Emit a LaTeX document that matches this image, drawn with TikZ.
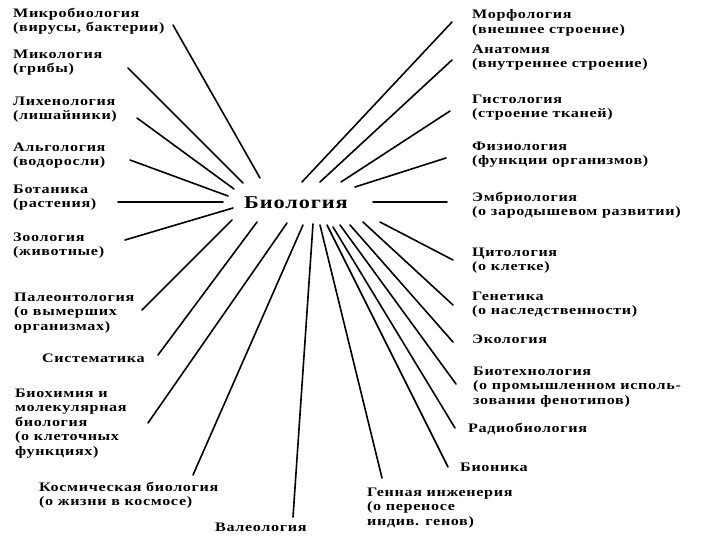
\documentclass[tikz,border=0pt]{standalone}
\usepackage{fontspec}
\setmainfont{Liberation Serif}[FakeStretch=1.24, LetterSpace=5]
\usepackage{tikz}
\usetikzlibrary{positioning}

\begin{document}
\begin{tikzpicture}[x=1pt, y=-1pt,
    lbl/.style={anchor=north west, inner sep=0pt, align=left, font=\bfseries\fontsize{13}{14.5}\selectfont},
    ray/.style={line width=1.6pt, line cap=round}]
    \useasboundingbox (0,0) rectangle (720,540);

    % Центр
    \node[inner sep=0pt, anchor=base, font=\bfseries\fontsize{18}{20}\selectfont] (bio) at (296,208) {Биология};

    % Левая колонка
    \node[lbl] (mikro) at (13,7.5) {Микробиология\\(вирусы, бактерии)};
    \node[lbl] (mikol) at (13,49.5) {Микология\\(грибы)};
    \node[lbl] (lihen) at (13,96.5) {Лихенология\\(лишайники)};
    \node[lbl] (algo) at (13,142.5) {Альгология\\(водоросли)};
    \node[lbl] (botan) at (13,184.5) {Ботаника\\(растения)};
    \node[lbl] (zool) at (13,232.5) {Зоология\\(животные)};
    \node[lbl] (paleo) at (14,292.5) {Палеонтология\\(о вымерших\\организмах)};
    \node[lbl] (sist) at (42,353.5) {Систематика};
    \node[lbl] (bioch) at (15,388.5) {Биохимия и\\молекулярная\\биология\\(о клеточных\\функциях)};
    \node[lbl] (kosm) at (39,481.5) {Космическая биология\\(о жизни в космосе)};
    \node[lbl] (valeo) at (215,522.5) {Валеология};

    % Правая колонка
    \node[lbl] (morf) at (472,9.5) {Морфология\\(внешнее строение)};
    \node[lbl] (anat) at (472,44.5) {Анатомия\\(внутреннее строение)};
    \node[lbl] (gistol) at (472,94.5) {Гистология\\(строение тканей)};
    \node[lbl] (fiziol) at (472,141.5) {Физиология\\(функции организмов)};
    \node[lbl] (embr) at (472,191.5) {Эмбриология\\(о зародышевом развитии)};
    \node[lbl] (citol) at (472,247.5) {Цитология\\(о клетке)};
    \node[lbl] (genet) at (472,291.5) {Генетика\\(о наследственности)};
    \node[lbl] (ekol) at (472,334.5) {Экология};
    \node[lbl] (biotech) at (473,366.5) {Биотехнология\\(о промышленном исполь-\\зовании фенотипов)};
    \node[lbl] (radio) at (468,422.5) {Радиобиология};
    \node[lbl] (bionik) at (460,462.5) {Бионика};
    \node[lbl] (genin) at (367,487.5) {Генная инженерия\\(о переносе\\индив. генов)};

    % Концы лучей
    \coordinate (mikro-o) at (173,25);   \coordinate (mikro-i) at (260,178);
    \coordinate (mikol-o) at (128,68);   \coordinate (mikol-i) at (243,183);
    \coordinate (lihen-o) at (137,118);  \coordinate (lihen-i) at (234,189);
    \coordinate (algo-o) at (130,160);   \coordinate (algo-i) at (228,196);
    \coordinate (botan-o) at (118,202);  \coordinate (botan-i) at (223,202);
    \coordinate (zool-o) at (125,240);   \coordinate (zool-i) at (233,208);
    \coordinate (paleo-o) at (142,310);  \coordinate (paleo-i) at (232,220);
    \coordinate (sist-o) at (158,355);   \coordinate (sist-i) at (257,222);
    \coordinate (bioch-o) at (148,423);  \coordinate (bioch-i) at (287,223);
    \coordinate (kosm-o) at (193,475);   \coordinate (kosm-i) at (303,225);
    \coordinate (valeo-o) at (293,517);  \coordinate (valeo-i) at (313,224);
    \coordinate (genin-o) at (382,478);  \coordinate (genin-i) at (320,225);
    \coordinate (bionik-o) at (448,467); \coordinate (bionik-i) at (327,225);
    \coordinate (radio-o) at (455,428);  \coordinate (radio-i) at (333,227);
    \coordinate (biotech-o) at (456,384);\coordinate (biotech-i) at (340,225);
    \coordinate (ekol-o) at (453,342);   \coordinate (ekol-i) at (350,225);
    \coordinate (genet-o) at (453,305);  \coordinate (genet-i) at (363,222);
    \coordinate (citol-o) at (453,260);  \coordinate (citol-i) at (380,222);
    \coordinate (embr-o) at (447,202);   \coordinate (embr-i) at (373,202);
    \coordinate (fiziol-o) at (446,158); \coordinate (fiziol-i) at (355,187);
    \coordinate (gistol-o) at (450,111); \coordinate (gistol-i) at (341,182);
    \coordinate (anat-o) at (452,60);    \coordinate (anat-i) at (320,182);
    \coordinate (morf-o) at (452,22);    \coordinate (morf-i) at (302,182);

    % Лучи
    \draw[ray] (mikro-o) -- (mikro-i);
    \draw[ray] (mikol-o) -- (mikol-i);
    \draw[ray] (lihen-o) -- (lihen-i);
    \draw[ray] (algo-o) -- (algo-i);
    \draw[ray] (botan-o) -- (botan-i);
    \draw[ray] (zool-o) -- (zool-i);
    \draw[ray] (paleo-o) -- (paleo-i);
    \draw[ray] (sist-o) -- (sist-i);
    \draw[ray] (bioch-o) -- (bioch-i);
    \draw[ray] (kosm-o) -- (kosm-i);
    \draw[ray] (valeo-o) -- (valeo-i);
    \draw[ray] (genin-o) -- (genin-i);
    \draw[ray] (bionik-o) -- (bionik-i);
    \draw[ray] (radio-o) -- (radio-i);
    \draw[ray] (biotech-o) -- (biotech-i);
    \draw[ray] (ekol-o) -- (ekol-i);
    \draw[ray] (genet-o) -- (genet-i);
    \draw[ray] (citol-o) -- (citol-i);
    \draw[ray] (embr-o) -- (embr-i);
    \draw[ray] (fiziol-o) -- (fiziol-i);
    \draw[ray] (gistol-o) -- (gistol-i);
    \draw[ray] (anat-o) -- (anat-i);
    \draw[ray] (morf-o) -- (morf-i);
\end{tikzpicture}
\end{document}
